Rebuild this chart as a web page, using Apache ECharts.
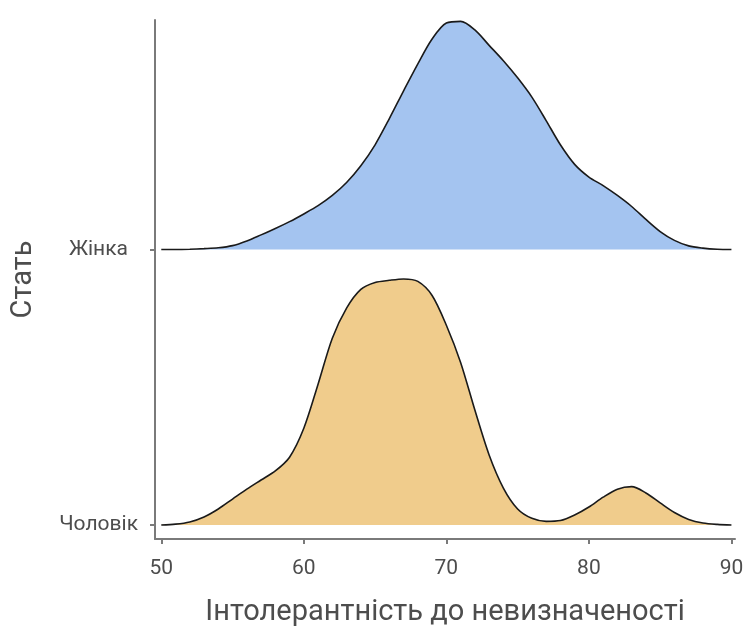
<!DOCTYPE html>
<html>
<head>
<meta charset="utf-8">
<script src="https://cdn.jsdelivr.net/npm/echarts@6/dist/echarts.min.js"></script>
<style>
html,body{margin:0;padding:0;background:#fff;}
#chart{width:745px;height:626px;}
</style>
</head>
<body>
<div id="chart"></div>
<script>
// Categories (ridge baselines) and tick labels
const categories = ['Чоловік', 'Жінка'];
const xTicks = [50, 60, 70, 80, 90];
// x grid of the density estimates
const xValues = [50,51,52,53,54,55,56,57,58,59,60,61,62,63,64,65,66,67,68,69,70,71,72,73,74,75,76,77,78,79,80,81,82,83,84,85,86,87,88,89,90];
// Ridge heights (in units of category spacing)
const femaleHeights = [0,0.000,0.001,0.003,0.006,0.014,0.031,0.053,0.076,0.101,0.129,0.159,0.196,0.243,0.304,0.380,0.475,0.576,0.674,0.764,0.822,0.828,0.797,0.741,0.685,0.623,0.553,0.468,0.380,0.309,0.263,0.232,0.196,0.156,0.109,0.065,0.033,0.013,0.005,0.001,0];
const maleHeights = [0,0.003,0.011,0.029,0.058,0.094,0.130,0.163,0.196,0.246,0.351,0.511,0.678,0.787,0.855,0.880,0.888,0.893,0.884,0.833,0.725,0.590,0.417,0.254,0.134,0.058,0.024,0.013,0.016,0.036,0.065,0.101,0.130,0.139,0.116,0.080,0.045,0.020,0.007,0.002,0];
const xTitle = 'Інтолерантність до невизначеності';
const yTitle = 'Стать';

function ridge(heights, base) {
  return xValues.map((x, i) => [x, base + heights[i]]);
}

const FONT = 'Roboto, "Noto Sans", sans-serif';
const AXIS_COLOR = '#7a7a7a';
const TEXT_COLOR = '#4d4d4d';

const chart = echarts.init(document.getElementById('chart'), null, {renderer: 'canvas'});
chart.setOption({
  animation: false,
  backgroundColor: '#ffffff',
  grid: {left: 155, right: 10, top: 20, bottom: 87, containLabel: false, outerBoundsMode: 'none'},
  xAxis: {
    type: 'value',
    min: 49.56, max: 90.25,
    splitLine: {show: false},
    axisLine: {show: true, onZero: false, lineStyle: {color: AXIS_COLOR, width: 2}},
    axisTick: {show: true, customValues: xTicks, length: 5, lineStyle: {color: AXIS_COLOR, width: 2}},
    axisLabel: {customValues: xTicks, color: TEXT_COLOR, fontSize: 21, fontFamily: FONT, margin: 19},
    name: xTitle,
    nameLocation: 'middle',
    nameGap: 59,
    nameTextStyle: {color: TEXT_COLOR, fontSize: 29, fontFamily: FONT}
  },
  yAxis: {
    type: 'value',
    min: 0.949, max: 2.833,
    splitLine: {show: false},
    axisLine: {show: true, onZero: false, lineStyle: {color: AXIS_COLOR, width: 2}},
    axisTick: {show: true, customValues: [1, 2], length: 5, lineStyle: {color: AXIS_COLOR, width: 2}},
    axisLabel: {
      customValues: [1, 2],
      formatter: v => (Math.round(v) === 2 ? '{f|' : '{m|') + categories[Math.round(v) - 1] + '}',
      rich: {
        f: {color: TEXT_COLOR, fontSize: 21, fontFamily: FONT, padding: [0, 10, 0, 0]},
        m: {color: TEXT_COLOR, fontSize: 21, fontFamily: FONT}
      },
      color: TEXT_COLOR, fontSize: 21, fontFamily: FONT, margin: 17
    },
    name: yTitle,
    nameLocation: 'middle',
    nameGap: 117,
    nameRotate: 90,
    nameTextStyle: {color: TEXT_COLOR, fontSize: 29, fontFamily: FONT}
  },
  series: [
    {
      type: 'line',
      data: ridge(femaleHeights, 2),
      smooth: 0.3,
      symbol: 'none',
      lineStyle: {color: '#1a1a1a', width: 1.6},
      areaStyle: {color: '#a4c4f0', opacity: 1, origin: 2},
      z: 2
    },
    {
      type: 'line',
      data: ridge(maleHeights, 1),
      smooth: 0.3,
      symbol: 'none',
      lineStyle: {color: '#1a1a1a', width: 1.6},
      areaStyle: {color: '#f0cc8c', opacity: 1, origin: 1},
      z: 3
    }
  ]
});
</script>
</body>
</html>
